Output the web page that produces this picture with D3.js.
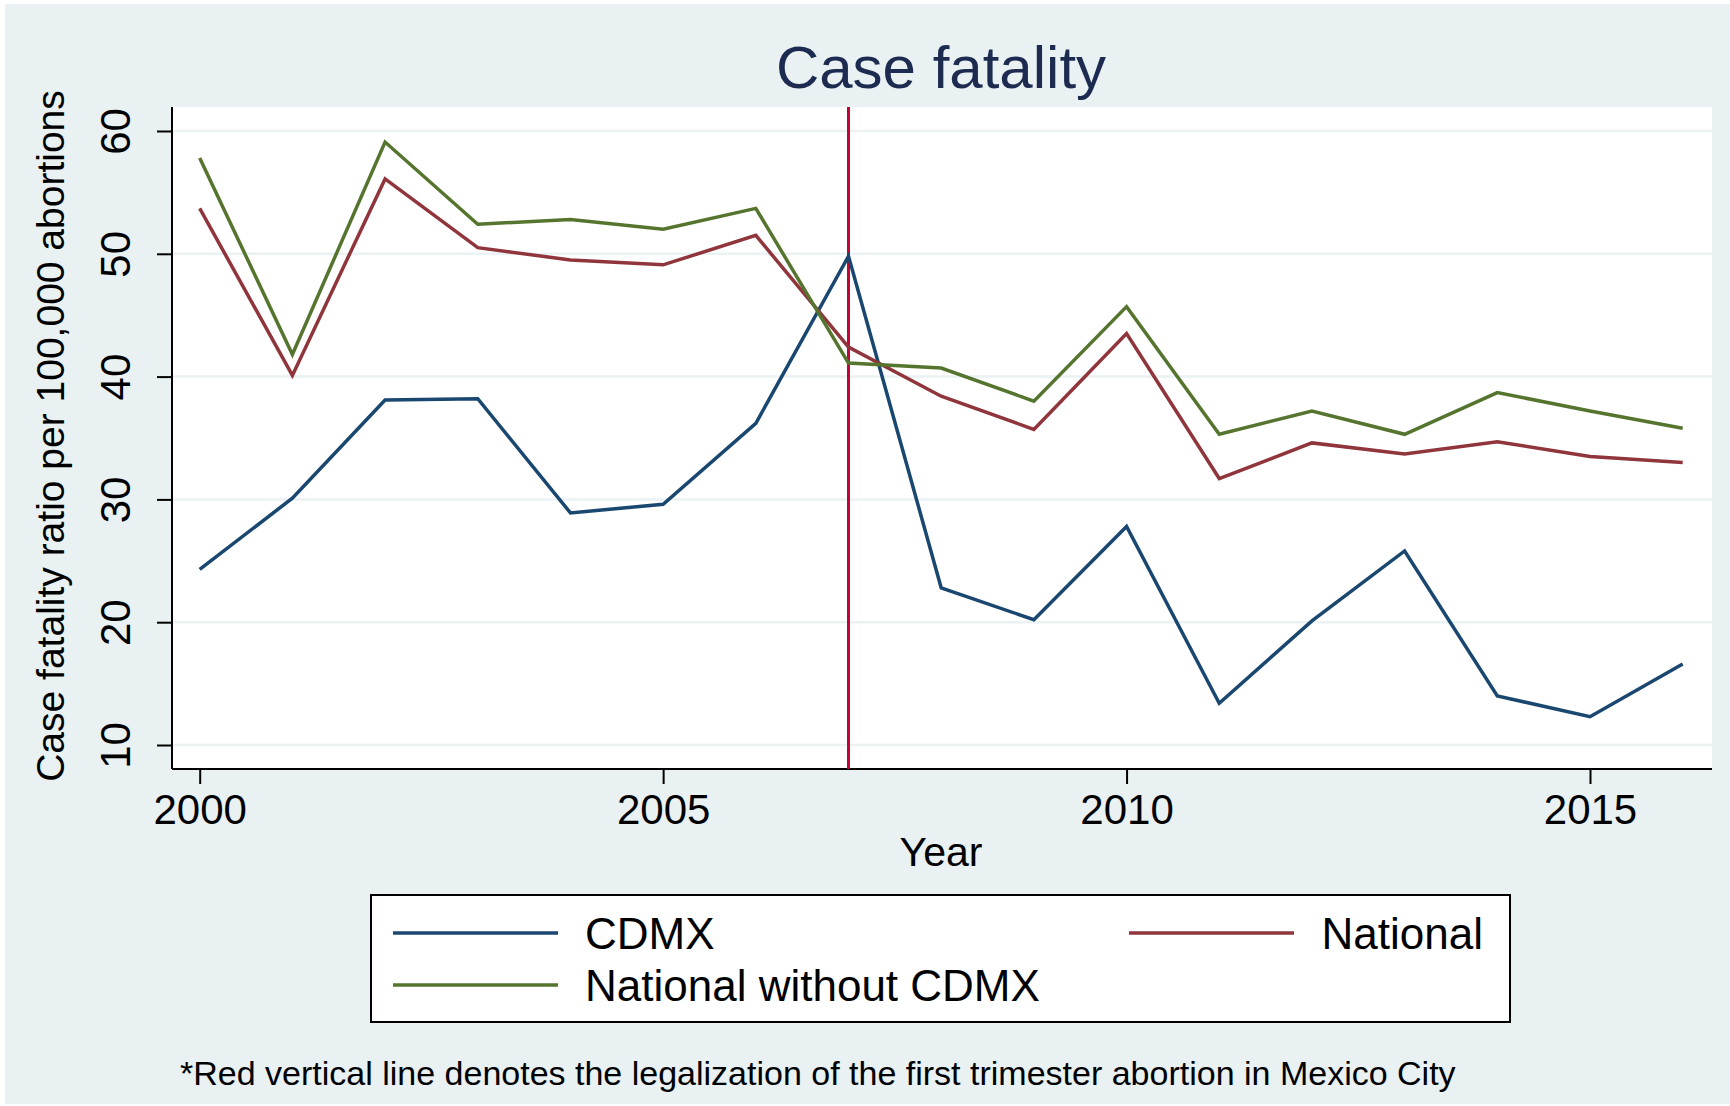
<head>
<meta charset="utf-8">
<style>
 body { margin: 0; background-color: #ffffff; }
 text { font-family: "Liberation Sans", Arial, sans-serif; fill: #000; }
</style>
</head>
<body>
<script src="https://d3js.org/d3.v7.min.js"></script>
<div id="chart"></div>
<script>
// years and the three series
var years = [2000, 2001, 2002, 2003, 2004, 2005, 2006, 2007, 2008, 2009, 2010, 2011, 2012, 2013, 2014, 2015, 2016]
var cdmx = [24.3, 30.1, 38.1, 38.2, 28.9, 29.6, 36.2, 49.8, 22.8, 20.2, 27.8, 13.4, 20.1, 25.8, 14.0, 12.3, 16.6]
var national = [53.7, 40.1, 56.1, 50.5, 49.5, 49.1, 51.5, 42.4, 38.4, 35.7, 43.5, 31.7, 34.6, 33.7, 34.7, 33.5, 33.0]
var nationalNoCdmx = [57.8, 41.8, 59.1, 52.4, 52.8, 52.0, 53.7, 41.1, 40.7, 38.0, 45.7, 35.3, 37.2, 35.3, 38.7, 37.2, 35.8]
var seriesNames = ["CDMX", "National", "National without CDMX"]
var seriesColors = ["#1a476f", "#90353b", "#55752f"]
var yTicks = [10, 20, 30, 40, 50, 60]
var xTicks = [2000, 2005, 2010, 2015]
var legalYear = 2007

var width = 1730,
    height = 1106

var svg = d3.select("#chart")
  .append("svg")
    .attr("width", width)
    .attr("height", height)

// graph region
svg.append("rect")
  .attr("x", 5).attr("y", 4)
  .attr("width", width - 5).attr("height", height - 6)
  .attr("fill", "#e9f1f3")

var plot = {left: 172, right: 1712, top: 107, bottom: 769}

svg.append("rect")
  .attr("x", plot.left).attr("y", plot.top)
  .attr("width", plot.right - plot.left).attr("height", plot.bottom - plot.top)
  .attr("fill", "#ffffff")

var x = d3.scaleLinear()
  .domain([2000, 2015])
  .range([199.7, 1590])

var y = d3.scaleLinear()
  .domain([10, 60])
  .range([745, 131])

// grid
svg.selectAll(".grid")
  .data(yTicks)
  .enter().append("line")
  .attr("x1", plot.left).attr("x2", plot.right)
  .attr("y1", function(d) { return y(d) }).attr("y2", function(d) { return y(d) })
  .attr("stroke", "#eaf2f3")
  .attr("stroke-width", 2.5)

// axes
var yAxis = svg.append("g")
  .attr("transform", "translate(" + plot.left + ",0)")
  .call(d3.axisLeft(y).tickValues(yTicks).tickSize(15).tickPadding(0).tickFormat(d3.format("d")))
yAxis.select(".domain").attr("d", "M0," + plot.top + "V" + plot.bottom).attr("stroke", "#000").attr("stroke-width", 2)
yAxis.selectAll(".tick line").attr("stroke", "#000").attr("stroke-width", 2)
yAxis.selectAll(".tick text")
  .attr("font-size", 42)
  .attr("font-family", "Liberation Sans, Arial, sans-serif")
  .attr("fill", "#000")
  .attr("text-anchor", "middle")
  .attr("x", null).attr("dy", null)
  .attr("transform", "translate(-42,0) rotate(-90)")

var xAxis = svg.append("g")
  .attr("transform", "translate(0," + plot.bottom + ")")
  .call(d3.axisBottom(x).tickValues(xTicks).tickSize(15).tickPadding(0).tickFormat(d3.format("d")))
xAxis.select(".domain").attr("d", "M" + plot.left + ",0H" + plot.right).attr("stroke", "#000").attr("stroke-width", 2)
xAxis.selectAll(".tick line").attr("stroke", "#000").attr("stroke-width", 2)
xAxis.selectAll(".tick text")
  .attr("font-size", 42)
  .attr("font-family", "Liberation Sans, Arial, sans-serif")
  .attr("fill", "#000")
  .attr("y", 55).attr("dy", null)

// legalization line
svg.append("line")
  .attr("x1", x(legalYear)).attr("x2", x(legalYear))
  .attr("y1", plot.top).attr("y2", plot.bottom)
  .attr("stroke", "#c10534")
  .attr("stroke-width", 3)

// series
var allSeries = [cdmx, national, nationalNoCdmx]
var line = d3.line()
  .x(function(d, i) { return x(years[i]) })
  .y(function(d) { return y(d) })

svg.selectAll(".serie")
  .data(allSeries)
  .enter().append("path")
  .attr("d", line)
  .attr("fill", "none")
  .attr("stroke", function(d, i) { return seriesColors[i] })
  .attr("stroke-width", 3.5)
  .attr("stroke-linejoin", "miter")

// titles
svg.append("text")
  .attr("x", 941).attr("y", 88)
  .attr("text-anchor", "middle")
  .style("font-size", "60px")
  .style("fill", "#1c2b4f")
  .text("Case fatality")

svg.append("text")
  .attr("transform", "translate(64,436) rotate(-90)")
  .attr("text-anchor", "middle")
  .style("font-size", "39px")
  .text("Case fatality ratio per 100,000 abortions")

svg.append("text")
  .attr("x", 941).attr("y", 866)
  .attr("text-anchor", "middle")
  .style("font-size", "41px")
  .text("Year")

// legend
svg.append("rect")
  .attr("x", 371).attr("y", 895)
  .attr("width", 1139).attr("height", 127)
  .attr("fill", "#fff")
  .attr("stroke", "#000")
  .attr("stroke-width", 2)

var legendPos = [
  {lx: 393, ly: 933, tx: 585, anchor: "start"},
  {lx: 1129, ly: 933, tx: 1483, anchor: "end"},
  {lx: 393, ly: 985, tx: 585, anchor: "start"}
]
legendPos.forEach(function(p, i) {
  svg.append("line")
    .attr("x1", p.lx).attr("x2", p.lx + 165)
    .attr("y1", p.ly).attr("y2", p.ly)
    .attr("stroke", seriesColors[i])
    .attr("stroke-width", 3.5)
  svg.append("text")
    .attr("x", p.tx).attr("y", p.ly + 16)
    .attr("text-anchor", p.anchor)
    .style("font-size", "44px")
    .text(seriesNames[i])
})

svg.append("text")
  .attr("x", 180).attr("y", 1085)
  .style("font-size", "34px")
  .text("*Red vertical line denotes the legalization of the first trimester abortion in Mexico City")

</script>
</body>
